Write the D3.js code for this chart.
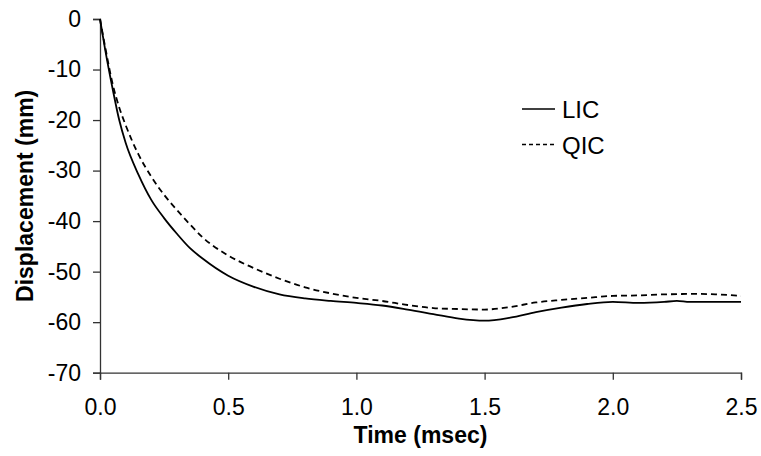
<!DOCTYPE html>
<html>
<head>
<meta charset="utf-8">
<script src="https://cdn.jsdelivr.net/npm/d3@7"></script>
<style>
  body { margin: 0; background: #fff; }
  .chart text { font-family: "Liberation Sans", Arial, sans-serif; fill: #000; }
</style>
</head>
<body>
<div class="chart"></div>
<script>
// time (msec)
var times = [0, 0.02, 0.05, 0.075, 0.1, 0.15, 0.2, 0.25, 0.3, 0.35, 0.4, 0.5, 0.6, 0.7, 0.8, 0.9,
  1.0, 1.1, 1.2, 1.3, 1.4, 1.5, 1.6, 1.7, 1.8, 1.9, 2.0, 2.1, 2.2, 2.25, 2.3, 2.4, 2.5];
// displacement (mm)
var lic = [0, -6, -14, -20, -24.5, -30.8, -35.8, -39.4, -42.5, -45.3, -47.4, -50.8, -53.0, -54.5, -55.3, -55.8,
  -56.2, -56.7, -57.5, -58.4, -59.3, -59.7, -59.1, -58.0, -57.1, -56.4, -56.0, -56.2, -56.0, -55.8, -56.0, -56.0, -56.0];
var qic = [0, -5.5, -13, -17.5, -21, -26.8, -31.2, -34.8, -37.8, -40.6, -43.2, -46.8, -49.3, -51.4, -53.1, -54.3,
  -55.2, -55.8, -56.6, -57.2, -57.4, -57.5, -57.0, -56.1, -55.6, -55.2, -54.8, -54.7, -54.5, -54.45, -54.4, -54.5, -54.8];
var xTicks = [0, 0.5, 1.0, 1.5, 2.0, 2.5];
var yTicks = [0, -10, -20, -30, -40, -50, -60, -70];
var seriesNames = ['LIC', 'QIC'];

var margin = { top: 19, right: 20, bottom: 83, left: 100 };

var svg = d3.select('.chart')
  .append('svg')
    .attr('width', 761)
    .attr('height', 456)
  .append('g')
    .attr('transform', 'translate(' + margin.left + ', ' + margin.top + ')');

var xScale = d3.scaleLinear().domain([0, 2.5]).range([0, 641]);
var yScale = d3.scaleLinear().domain([-70, 0]).range([353.7, 0]);

var xAxis = d3.axisBottom(xScale)
  .tickValues(xTicks)
  .tickSize(7)
  .tickPadding(19)
  .tickFormat(d3.format('.1f'));
var yAxis = d3.axisLeft(yScale)
  .tickValues(yTicks)
  .tickSize(7)
  .tickPadding(12)
  .tickFormat(d => d3.format('d')(d).replace('−', '-'));

var gx = svg.append('g')
  .attr('transform', 'translate(0, ' + yScale(-70) + ')')
  .call(xAxis);
var gy = svg.append('g').call(yAxis);

[gx, gy].forEach(function(g) {
  g.attr('font-size', null).attr('font-family', null);
  g.select('.domain').attr('stroke', '#333').attr('stroke-width', 1.3);
  g.selectAll('.tick line').attr('stroke', '#333').attr('stroke-width', 1.3);
  g.selectAll('.tick text')
    .style('font-size', '23px')
    .style('font-family', '"Liberation Sans", Arial, sans-serif');
});

// axis titles
svg.append('text')
  .attr('x', xScale(1.25))
  .attr('y', 424)
  .attr('text-anchor', 'middle')
  .style('font-size', '23px')
  .style('font-weight', 'bold')
  .text('Time (msec)');

svg.append('text')
  .attr('transform', 'translate(' + (-67) + ', ' + yScale(-35) + ') rotate(-90)')
  .attr('text-anchor', 'middle')
  .style('font-size', '23px')
  .style('font-weight', 'bold')
  .text('Displacement (mm)');

var line = d3.line()
  .x((d, i) => xScale(times[i]))
  .y(d => yScale(d))
  .curve(d3.curveMonotoneX);

svg.append('path')
  .datum(lic)
  .attr('d', line)
  .attr('fill', 'none')
  .attr('stroke', '#000')
  .attr('stroke-width', 1.8);

svg.append('path')
  .datum(qic)
  .attr('d', line)
  .attr('fill', 'none')
  .attr('stroke', '#000')
  .attr('stroke-width', 1.8)
  .attr('stroke-dasharray', '6,4');

// legend
var legend = svg.append('g').attr('transform', 'translate(422, 90)');
seriesNames.forEach(function(name, i) {
  var gy0 = i * 35.5;
  legend.append('line')
    .attr('x1', 0).attr('x2', 33)
    .attr('y1', gy0).attr('y2', gy0)
    .attr('stroke', '#000')
    .attr('stroke-width', 1.5)
    .attr('stroke-dasharray', i === 1 ? '4,3' : null);
  legend.append('text')
    .attr('x', 40)
    .attr('y', gy0 + 9)
    .style('font-size', '24px')
    .text(name);
});
</script>
</body>
</html>
